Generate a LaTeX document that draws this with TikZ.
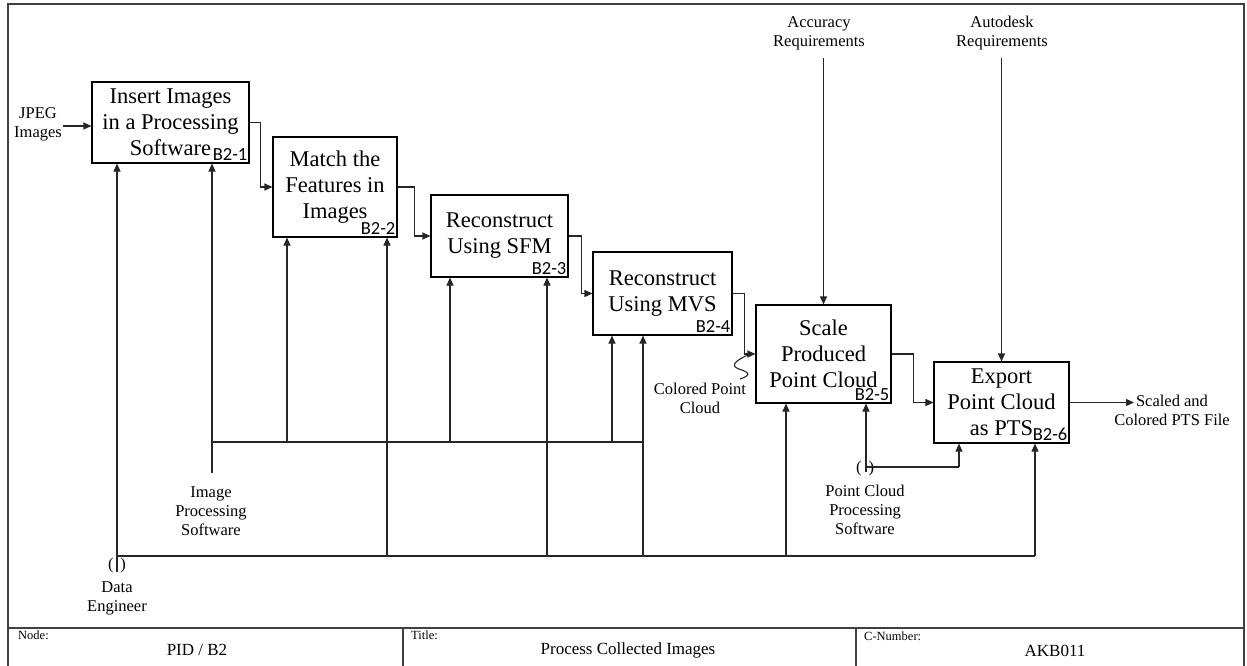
\documentclass[tikz,border=0pt]{standalone}
\usepackage{fontspec}
\setmainfont{Liberation Serif}
\newfontfamily\numfont{Carlito}
\usetikzlibrary{arrows.meta,calc}
\begin{document}
\begin{tikzpicture}[x=1pt,y=-1pt]
\tikzset{
  func/.style={draw=black, line width=1.1pt, align=center, inner sep=0pt,
               font=\fontsize{22.5}{26}\selectfont},
  tag/.style={anchor=south east, inner xsep=2pt, inner ysep=2.5pt,
              font=\numfont\fontsize{18.5}{18.5}\selectfont},
  lbl/.style={align=center, inner sep=1pt, font=\fontsize{16.5}{19}\selectfont},
  cell/.style={anchor=west, inner sep=0pt, font=\fontsize{12.5}{14}\selectfont},
  celltext/.style={inner sep=0pt, font=\fontsize{17}{20}\selectfont},
  conn/.style={draw=black!85, line width=1.1pt},
  arr/.style={conn, -{Triangle[length=8pt,width=7pt]}},
  frame/.style={draw=black!75, line width=1.2pt},
}
\useasboundingbox (0,0) rectangle (1247,665);
\fill[white] (0,0) rectangle (1247,665);

% outer frame and title block
\draw[frame] (8,4) rectangle (1244,668);
\draw[frame] (8,628) -- (1244,628);
\draw[frame] (403,628) -- (403,668);
\draw[frame] (856,628) -- (856,668);
\node[cell] (nodek) at (18,635) {Node:};
\node[celltext] (nodev) at (197,650) {PID / B2};
\node[cell] (titlek) at (411,635) {Title:};
\node[celltext] (titlev) at (628,650) {Process Collected Images};
\node[cell] (cnumk) at (864,636) {C-Number:};
\node[celltext] (cnumv) at (1055,651) {AKB011};

% activity boxes
\node[func, minimum width=157pt, minimum height=81pt] (b1) at (170.5,122.5) {Insert Images\\in a Processing\\Software};
\node[func, minimum width=124pt, minimum height=100pt] (b2) at (335,187) {Match the\\Features in\\Images};
\node[func, minimum width=137pt, minimum height=82pt] (b3) at (499.5,236) {Reconstruct\\Using SFM};
\node[func, minimum width=139pt, minimum height=83pt] (b4) at (662.5,293.5) {Reconstruct\\Using MVS};
\node[func, minimum width=135pt, minimum height=98pt] (b5) at (823.5,354) {Scale\\Produced\\Point Cloud};
\node[func, minimum width=135pt, minimum height=81pt] (b6) at (1001.5,402.5) {Export\\Point Cloud\\as PTS};

\node[tag] (t1) at (b1.south east) {B2-1};
\node[tag] (t2) at (b2.south east) {B2-2};
\node[tag] (t3) at (b3.south east) {B2-3};
\node[tag] (t4) at (b4.south east) {B2-4};
\node[tag] (t5) at (b5.south east) {B2-5};
\node[tag] (t6) at (b6.south east) {B2-6};

% input and output
\node[lbl] (jpeg) at (38,124.5) {JPEG\\Images};
\coordinate (b1in) at ($(b1.west)+(0,3.5)$);
\draw[arr] (jpeg.east |- b1in) -- (b1in);
\coordinate (outend) at (1134,402.5);
\draw[arr] (b6.east) -- (outend);
\node[lbl] (outlbl) at (1172,410) {Scaled and\\Colored PTS File};

% flow between the activities
\draw[arr] (b1.east) -- ++(11,0) |- (b2.west);
\draw[arr] (b2.east) -- ++(17,0) |- (b3.west);
\draw[arr] (b3.east) -- ++(13,0) |- (b4.west);
\draw[arr] (b4.east) -- ++(12,0) |- (b5.west);
\draw[arr] (b5.east) -- ++(22,0) |- (b6.west);

% label of the intermediate result
\node[lbl] (cpc) at (700,398) {Colored Point\\Cloud};
\coordinate (sq1) at (750,354);
\coordinate (sq2) at (740,379);
\draw[conn] (sq1) .. controls (741,358) and (727,365) .. (739,369) .. controls (752,373) and (749,376) .. (sq2);

% controls
\node[lbl] (acc) at (819,33) {Accuracy\\Requirements};
\node[lbl] (adsk) at (1002,33) {Autodesk\\Requirements};
\draw[arr] ($(b5.north |- acc.south)+(0,7)$) -- (b5.north);
\draw[arr] ($(b6.north |- adsk.south)+(0,7)$) -- (b6.north);

% mechanism: data engineer
\node[lbl] (detun) at (117,566) {(\hspace{7pt})};
\node[lbl] (de) at (117,598) {Data\\Engineer};
\coordinate (deb) at (117,572);
\coordinate (debus) at (117,556);
\coordinate (m2) at (387,556);
\coordinate (m3) at (547,556);
\coordinate (m4) at (643,556);
\coordinate (m5) at (786,556);
\coordinate (m6) at (1035,556);
\draw[arr] (deb) -- (deb |- b1.south);
\draw[conn] (debus) -- (m6);
\draw[arr] (m2) -- (m2 |- b2.south);
\draw[arr] (m3) -- (m3 |- b3.south);
\draw[arr] (m4) -- (m4 |- b4.south);
\draw[arr] (m5) -- (m5 |- b5.south);
\draw[arr] (m6) -- (m6 |- b6.south);

% mechanism: image processing software
\node[lbl] (ips) at (211,511) {Image\\Processing\\Software};
\coordinate (ipsb) at (212,473);
\coordinate (ipsbus) at (212,442);
\coordinate (i2) at (287,442);
\coordinate (i3) at (450,442);
\coordinate (i4) at (612,442);
\draw[arr] (ipsb) -- (ipsb |- b1.south);
\draw[conn] (ipsbus) -- (m4 |- ipsbus);
\draw[arr] (i2) -- (i2 |- b2.south);
\draw[arr] (i3) -- (i3 |- b3.south);
\draw[arr] (i4) -- (i4 |- b4.south);

% mechanism: point cloud processing software
\node[lbl] (pctun) at (865,469) {(\hspace{7pt})};
\node[lbl] (pcps) at (865,510) {Point Cloud\\Processing\\Software};
\coordinate (pcb) at (866,472);
\coordinate (pcbus) at (866,467);
\coordinate (p6) at (959,467);
\draw[arr] (pcb) -- (pcb |- b5.south);
\draw[conn] (pcbus) -- (p6);
\draw[arr] (p6) -- (p6 |- b6.south);
\end{tikzpicture}
\end{document}
